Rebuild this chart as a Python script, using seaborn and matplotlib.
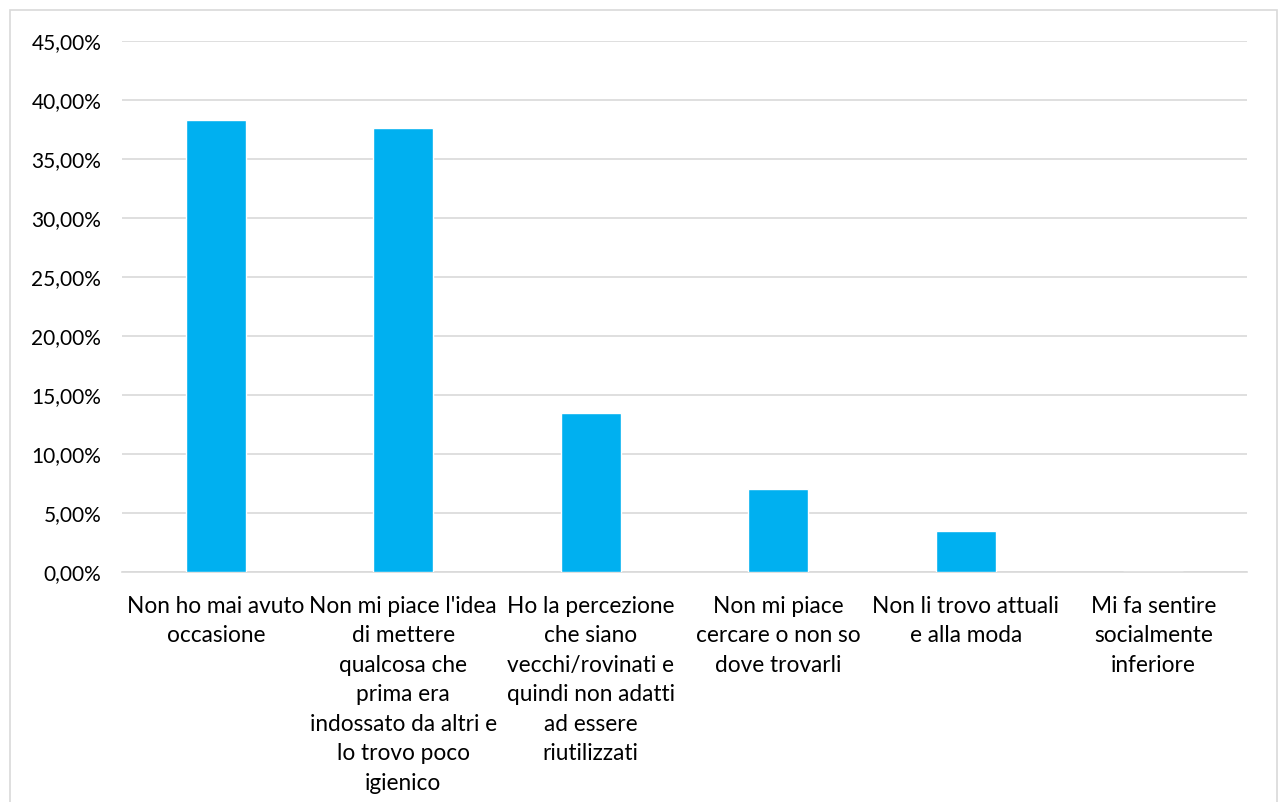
import matplotlib
matplotlib.use("Agg")
import matplotlib.pyplot as plt
import seaborn as sns
import pandas as pd
from matplotlib.ticker import FuncFormatter, MultipleLocator
from matplotlib.patches import Rectangle

# categories (wrapped as in the original chart)
categories = [
    "Non ho mai avuto\noccasione",
    "Non mi piace l'idea\ndi mettere\nqualcosa che\nprima era\nindossato da altri e\nlo trovo poco\nigienico",
    "Ho la percezione\nche siano\nvecchi/rovinati e\nquindi non adatti\nad essere\nriutilizzati",
    "Non mi piace\ncercare o non so\ndove trovarli",
    "Non li trovo attuali\ne alla moda",
    "Mi fa sentire\nsocialmente\ninferiore",
]
percent = [38.27, 37.65, 13.50, 7.05, 3.50, 0.0]

df = pd.DataFrame({"motivo": categories, "perc": percent})

sns.set_style("white")
plt.rcParams["font.family"] = ["Lato", "DejaVu Sans"]

fig = plt.figure(figsize=(12.79, 8.02), dpi=100)
ax = fig.add_axes([122 / 1279, 1 - 572 / 802, (1247 - 122) / 1279, (572 - 41) / 802])

sns.barplot(data=df, x="motivo", y="perc", color="#00B0F0", width=0.32,
            saturation=1, ax=ax, zorder=3)

ax.set_ylim(0, 45)
ax.yaxis.set_major_locator(MultipleLocator(5))
ax.yaxis.set_major_formatter(FuncFormatter(lambda v, p: f"{v:.2f}%".replace(".", ",")))
ax.grid(axis="y", color="#D9D9D9", linewidth=1.2, zorder=0)
ax.set_xlabel("")
ax.set_ylabel("")
for s in ["top", "right", "left"]:
    ax.spines[s].set_visible(False)
ax.spines["bottom"].set_color("#D9D9D9")
ax.spines["bottom"].set_linewidth(1.2)
ax.tick_params(axis="both", length=0, colors="black")
ax.tick_params(axis="y", labelsize=15, pad=15)
ax.tick_params(axis="x", labelsize=16.3, pad=17)
for lbl in ax.get_xticklabels():
    lbl.set_linespacing(1.5)
    lbl.set_horizontalalignment("center")

# outer chart border
fig.patches.append(Rectangle((10 / 1279, -0.01), (1277 - 10) / 1279, 1 - 10 / 802 + 0.01,
                             transform=fig.transFigure, fill=False,
                             edgecolor="#D9D9D9", linewidth=1.2))

fig.savefig("out.png", dpi=100)
